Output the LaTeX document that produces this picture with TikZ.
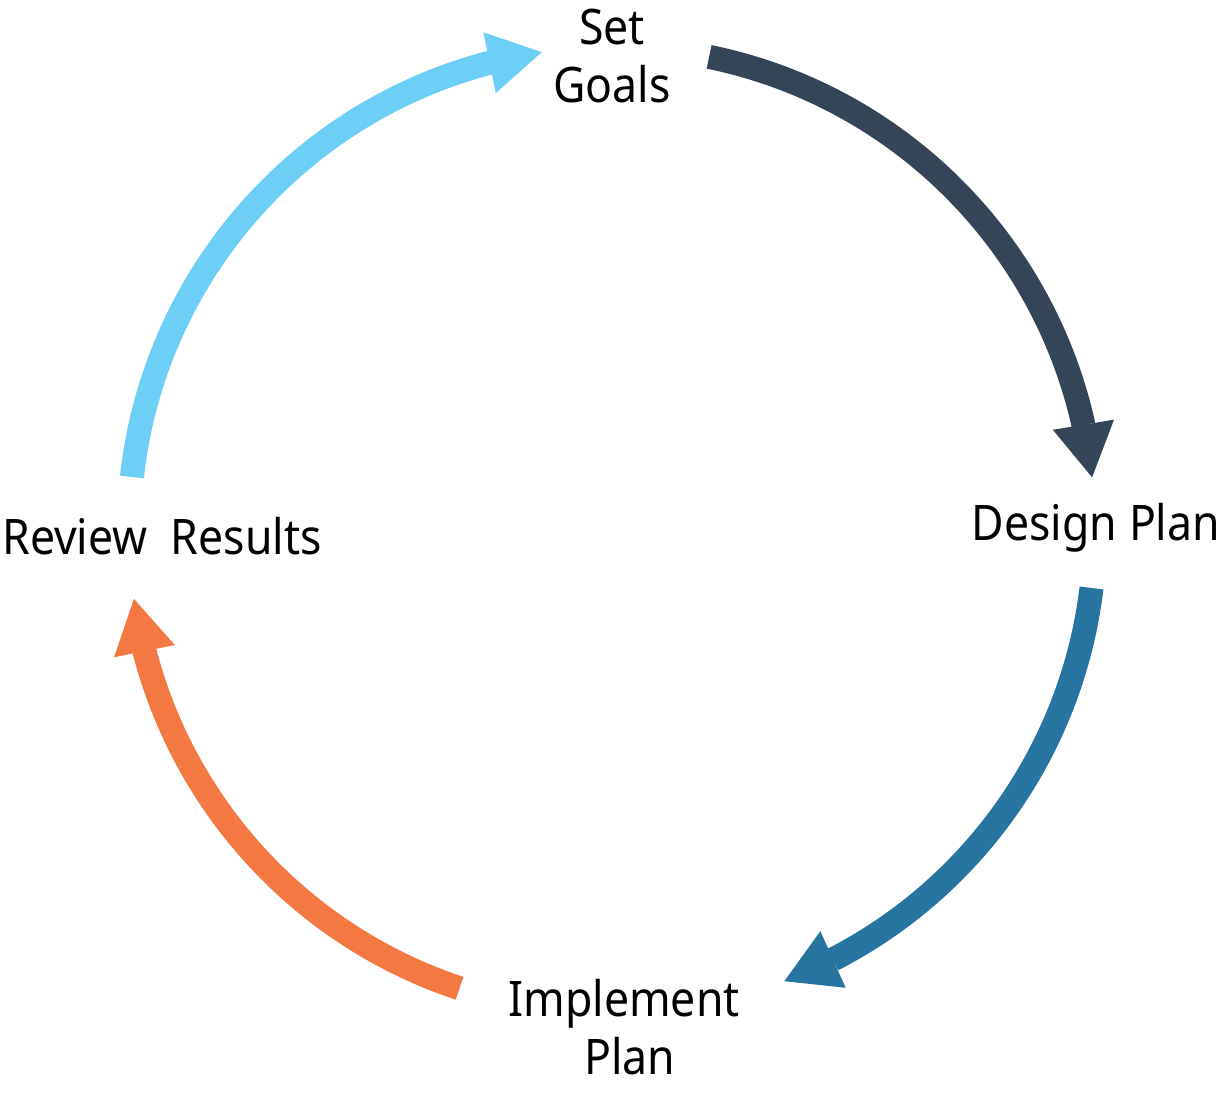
\documentclass[tikz,border=0pt]{standalone}
\usepackage{fontspec}
\setmainfont{Noto Sans}[FakeStretch=0.91]
\usetikzlibrary{arrows.meta,bending,calc}
\definecolor{goalblue}{RGB}{109,207,246}
\definecolor{designnavy}{RGB}{52,69,88}
\definecolor{implteal}{RGB}{39,116,160}
\definecolor{revieworange}{RGB}{244,120,66}
\begin{document}
\begin{tikzpicture}[x=0.75pt,y=0.75pt,
  lbl/.style={font=\fontsize{36.75}{43.7}\selectfont, align=center, inner sep=0pt},
  cyc/.style={line width=18pt,
    -{Triangle[width=46.5pt,length=40pt,line width=0pt,flex]}}]
\useasboundingbox (0,0) rectangle (1222,1096);
% centre of the cycle
\coordinate (c) at (612,566);
% stage labels
\node[lbl] (goals) at (612,1040) {Set\\Goals};
\node[lbl, anchor=base] (design) at (1096,555) {Design Plan};
\node[lbl] (impl) at (624,69) {Implement\\\hspace*{9pt}Plan};
\node[lbl, anchor=base] (review) at (162,541) {Review\ \ Results};
% arc ends
\coordinate (g0) at ($(c)+(173.7:483)$);
\coordinate (d0) at ($(c)+(78.4:483)$);
\coordinate (i0) at ($(c)+(-6.9:483)$);
\coordinate (r0) at ($(c)+(251.6:483)$);
% cycle arrows
\draw[cyc, goalblue] (g0) arc[start angle=173.7, end angle=98.35, radius=483];
\draw[cyc, designnavy] (d0) arc[start angle=78.4, end angle=6.26, radius=483];
\draw[cyc, implteal] (i0) arc[start angle=-6.9, end angle=-69.1, radius=483];
\draw[cyc, revieworange] (r0) arc[start angle=251.6, end angle=188.2, radius=483];
\end{tikzpicture}
\end{document}
